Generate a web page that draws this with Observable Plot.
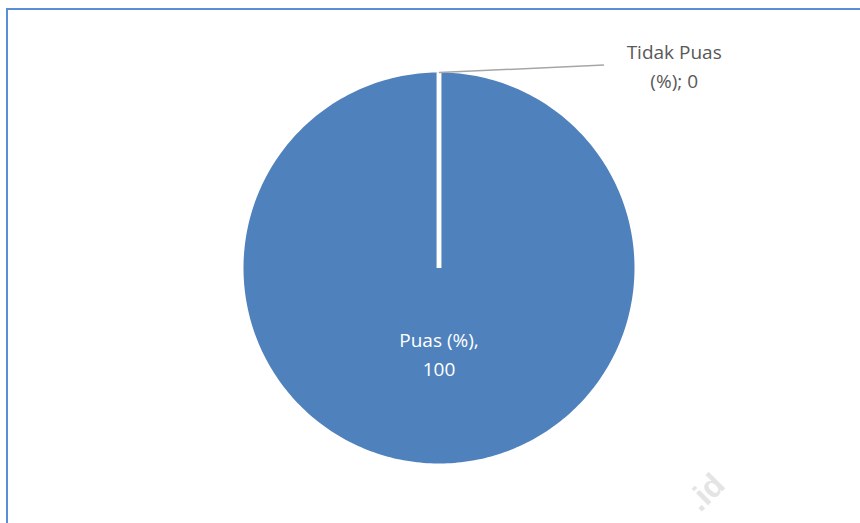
<!DOCTYPE html>
<html><head><meta charset="utf-8">
<script src="https://cdn.jsdelivr.net/npm/d3@7"></script>
<script src="https://cdn.jsdelivr.net/npm/@observablehq/plot@0.6"></script>
<style>
body{margin:0;background:#fff;overflow:hidden;}
#wrap{position:relative;width:860px;height:523px;overflow:hidden;background:#fff;}
#frame{position:absolute;left:6px;top:8px;width:900px;height:600px;border-top:2px solid #5b8ed6;border-left:2px solid #5b8ed6;pointer-events:none;}
svg{display:block;}
</style></head><body><div id="wrap"><div id="frame"></div></div>
<script>
// ---- data ----
const categories = ["Puas (%)", "Tidak Puas (%)"];
const values = [100, 0];
const separators = [", ", "; "];
const sliceColors = ["#4f81bd", "#c0504d"];
const watermark = ".id";

// ---- layout ----
const FONT = "Open Sans";
const insideRadius = 0.43;           // inside label distance (fraction of radius)
const outLabelPos = [1.203, 1.044];  // outside label centre (data units)
const leaderEnd = [0.844, 1.038];

const rows = categories.map((c, i) => ({category: c, value: values[i], sep: separators[i]}));
const arcs = d3.pie().sort(null).value(d => d.value)(rows);

function wrap(s, maxChars) {
  const words = s.split(" ");
  const lines = [];
  let cur = "";
  for (const w of words) {
    const t = cur ? cur + " " + w : w;
    if (t.length > maxChars && cur) { lines.push(cur); cur = w; } else cur = t;
  }
  if (cur) lines.push(cur);
  return lines.join("\n");
}

const total = d3.sum(values);
const pts = [];
for (const a of arcs) {
  const n = Math.max(2, Math.ceil((a.endAngle - a.startAngle) / (2 * Math.PI) * 360));
  pts.push({category: a.data.category, x: 0, y: 0});
  for (let k = 0; k <= n; k++) {
    const t = a.startAngle + (a.endAngle - a.startAngle) * k / n;
    pts.push({category: a.data.category, x: Math.sin(t), y: Math.cos(t)});
  }
  pts.push({category: a.data.category, x: 0, y: 0});
}
const mid = a => (a.startAngle + a.endAngle) / 2;
const labelled = arcs.map(a => ({
  ...a,
  label: wrap(`${a.data.category}${a.data.sep}${a.data.value}`, 10),
  outside: a.data.value / total < 0.05
}));
const inside = labelled.filter(d => !d.outside);
const outside = labelled.filter(d => d.outside);

const chart = Plot.plot({
  width: 860, height: 523,
  margin: 0,
  x: {domain: [-1, 1], range: [243, 634], axis: null},
  y: {domain: [-1, 1], range: [463, 72], axis: null},
  color: {domain: categories, range: sliceColors},
  style: {background: "transparent"},
  marks: [
    Plot.line(pts, {x: "x", y: "y", z: "category", fill: "category", stroke: null, curve: "linear"}),
    Plot.link(arcs, {x1: () => 0, y1: () => 0, x2: d => Math.sin(d.startAngle), y2: d => Math.cos(d.startAngle),
      stroke: "white", strokeWidth: 4.5}),
    Plot.link(outside, {x1: d => Math.sin(mid(d)), y1: d => Math.cos(mid(d)), x2: () => leaderEnd[0], y2: () => leaderEnd[1],
      stroke: "#a6a6a6", strokeWidth: 1.5}),
    Plot.text(inside, {x: d => insideRadius * Math.sin(mid(d)), y: d => insideRadius * Math.cos(mid(d)), text: "label",
      fill: "white", fontSize: 19, fontFamily: FONT, lineHeight: 29 / 19, lineAnchor: "middle", textAnchor: "middle"}),
    Plot.text(outside, {x: () => outLabelPos[0], y: () => outLabelPos[1], text: "label",
      fill: "#595959", fontSize: 19, fontFamily: FONT, lineHeight: 30 / 19, lineAnchor: "middle", textAnchor: "middle"}),
    Plot.text([watermark], {frameAnchor: "top-left", dx: 710, dy: 470, text: d => d, rotate: -45, textAnchor: "end",
      fill: "#e4e4e4", fontSize: 32, fontWeight: "bold", fontFamily: "Liberation Sans"})
  ]
});
const wrapEl = document.getElementById("wrap");
wrapEl.insertBefore(chart, document.getElementById("frame"));
</script>
</body></html>
